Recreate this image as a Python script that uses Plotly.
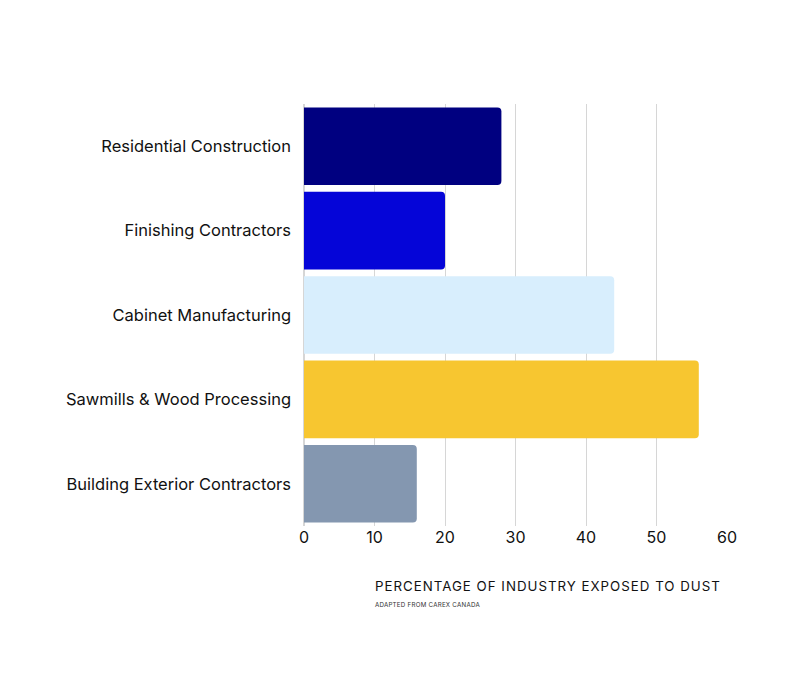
import plotly.graph_objects as go

categories = ["Residential Construction", "Finishing Contractors", "Cabinet Manufacturing",
              "Sawmills & Wood Processing", "Building Exterior Contractors"]
values = [28, 20, 44, 56, 16]
colors = ["#000080", "#0505D8", "#D8EEFD", "#F7C630", "#8497B0"]
x_ticks = [0, 10, 20, 30, 40, 50, 60]
x_title = "PERCENTAGE OF INDUSTRY EXPOSED TO DUST"
source = "ADAPTED FROM CAREX CANADA"

fig = go.Figure(go.Bar(
    y=categories, x=values, orientation="h",
    marker=dict(color=colors, line=dict(width=0)),
    hoverinfo="x+y",
))

fig.update_layout(
    width=800, height=700,
    margin=dict(l=296, r=81, t=96, b=182),
    paper_bgcolor="white", plot_bgcolor="white",
    font=dict(family="Inter, Roboto, sans-serif", color="#111111"),
    bargap=0.08,
    barcornerradius=4,
    showlegend=False,
    xaxis=dict(range=[0, 60], tickvals=x_ticks, showgrid=True, gridcolor="#d6d6d6",
               gridwidth=1, zeroline=True, zerolinecolor="#d6d6d6", showline=False,
               tickfont=dict(size=16, color="#111111"), ticks="", ticklen=0),
    yaxis=dict(autorange="reversed", showgrid=False, showline=False, ticks="",
               tickfont=dict(size=16.5, color="#111111"), ticklabelstandoff=12),
    annotations=[
        dict(text=x_title, xref="paper", yref="paper", x=(547.5 - 304) / 423, y=-0.142,
             xanchor="center", yanchor="middle", showarrow=False,
             font=dict(size=13.3, color="#111111", family="Inter, Roboto, sans-serif")),
        dict(text=source, xref="paper", yref="paper", x=(428 - 304) / 423, y=-0.186,
             xanchor="center", yanchor="middle", showarrow=False,
             font=dict(size=6.2, color="#333333", family="Inter, Roboto, sans-serif")),
    ],
)

post = """
var els = document.querySelectorAll('.annotation-text');
if (els.length > 0) { els[0].style.letterSpacing = '1.0px'; }
if (els.length > 1) { els[1].style.letterSpacing = '0.25px'; }
"""
fig.write_html("out.html", post_script=post)
